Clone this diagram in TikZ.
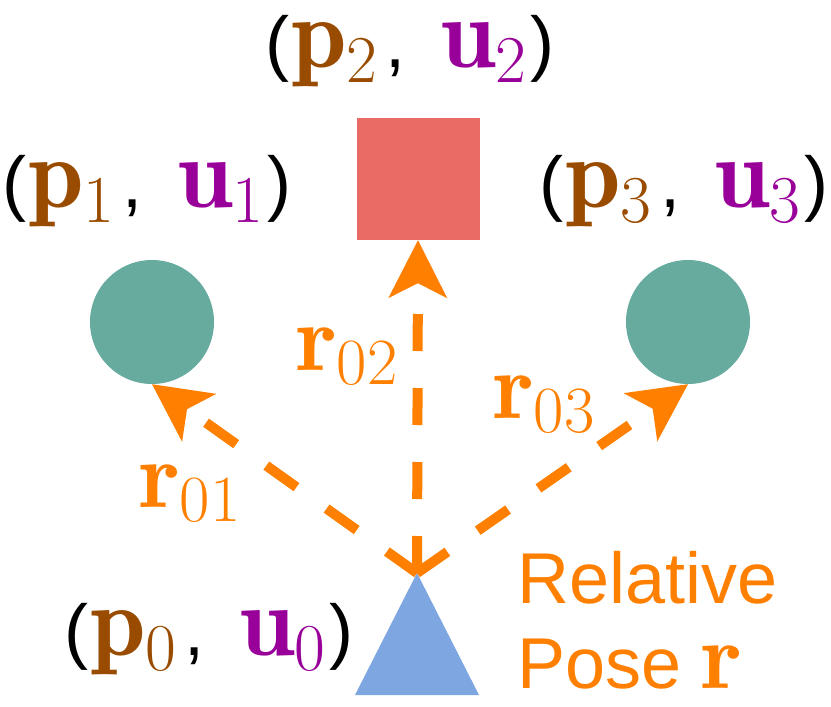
\RequirePackage{fix-cm}
\documentclass[tikz,border=0pt]{standalone}
\usepackage{fontspec}
\newfontfamily\arial{Liberation Sans}
\usetikzlibrary{arrows.meta}
\definecolor{pbrown}{HTML}{994C00}
\definecolor{upurple}{HTML}{990099}
\definecolor{orng}{HTML}{FF8000}
\definecolor{tealc}{HTML}{67AB9F}
\definecolor{redc}{HTML}{EA6B66}
\definecolor{bluec}{HTML}{7EA6E0}
\DeclareMathSizes{100}{100}{67}{50}
\DeclareMathSizes{95}{95}{66}{47}
\newcommand\lblfont{\fontsize{100}{110}\selectfont}
\newcommand\rfont{\fontsize{95}{100}\selectfont}
\newcommand\arialtxt{\arial\fontsize{72}{85}\selectfont}
\newcommand\pulabel[1]{{\arialtxt(}\kern2pt{\lblfont\textcolor{pbrown}{$\mathbf{p}_{#1}$}}\kern8pt{\arialtxt,}\kern34pt{\lblfont\textcolor{upurple}{$\mathbf{u}_{#1}$}}\kern4pt{\arialtxt)}}
\begin{document}
\begin{tikzpicture}[x=1pt,y=-1pt,
  dot/.style={circle, fill=tealc, minimum size=124pt, inner sep=0pt},
  target/.style={rectangle, fill=redc, minimum width=123pt, minimum height=122pt, inner sep=0pt},
  rel/.style={draw=orng, line width=10pt, dash pattern=on 37pt off 37pt,
    -{Stealth[length=58pt, width=59pt, inset=15pt, line width=0pt]}},
  lbl/.style={anchor=base, inner sep=0pt},
  rlbl/.style={anchor=base west, inner sep=0pt, text=orng, font=\rfont}]
\useasboundingbox (0,0) rectangle (831,707);
\node[dot] (c1) at (152,322) {};
\node[dot] (c3) at (688,322) {};
\node[target] (sq) at (418,179) {};
\coordinate (apex) at (417,573);
\fill[bluec] (355,695) -- (apex) -- (479,695) -- cycle;
\draw[rel] (apex) -- (c1.south);
\draw[rel] (apex) -- (sq.south);
\draw[rel] (apex) -- (c3.south);
\node[lbl] (l2) at (410,67) {\pulabel{2}};
\node[lbl] (l1) at (147,207) {\pulabel{1}};
\node[lbl] (l3) at (684,207) {\pulabel{3}};
\node[lbl] (l0) at (209,655) {\pulabel{0}};
\node[rlbl] (r01) at (139,507) {$\mathbf{r}_{01}$};
\node[rlbl] (r02) at (296,370) {$\mathbf{r}_{02}$};
\node[rlbl] (r03) at (493,418) {$\mathbf{r}_{03}$};
\node[anchor=base west, inner sep=0pt, text=orng, align=left, font=\arialtxt] (rp) at (517,688) {Relative\\Pose {\rfont$\mathbf{r}$}};
\end{tikzpicture}
\end{document}
